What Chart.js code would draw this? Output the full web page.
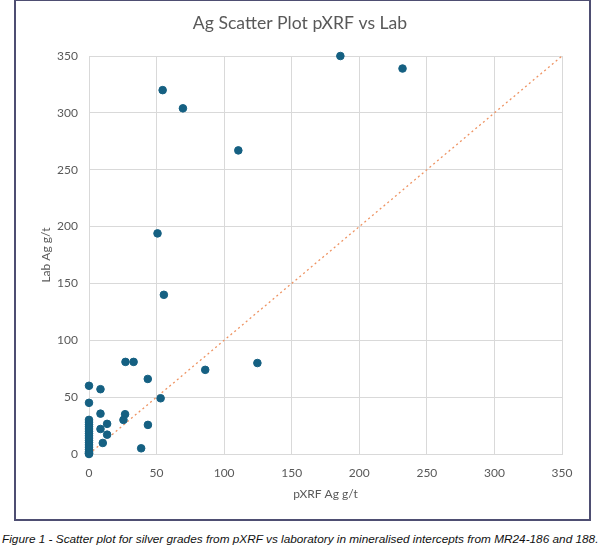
<!DOCTYPE html>
<html>
<head>
<meta charset="utf-8">
<script src="https://cdn.jsdelivr.net/npm/chart.js@4.4.1/dist/chart.umd.min.js"></script>
<style>
  html, body { margin: 0; padding: 0; background: #fff; }
  body { width: 608px; height: 552px; position: relative; overflow: hidden; }
  #wrap { position: absolute; left: 0; top: 0; width: 608px; height: 520px; }
  #frame {
    position: absolute; left: 14px; top: -1px; width: 577px; height: 522px;
    box-sizing: border-box; border: 2px solid #4e4e72; pointer-events: none;
  }
  #caption {
    position: absolute; left: 2px; top: 532px; width: 606px;
    font: italic 11.8px "Liberation Sans", Arial, sans-serif; color: #111;
    white-space: nowrap;
  }
</style>
</head>
<body>
<div id="wrap"><canvas id="agChart" width="608" height="520"></canvas></div>
<div id="frame"></div>
<div id="caption">Figure 1 - Scatter plot for silver grades from pXRF vs laboratory in mineralised intercepts from MR24-186 and 188.</div>
<script>
// pXRF vs Lab silver (g/t)
const pxrf = [186, 232, 54.5, 69.5, 110.5, 50.7, 55.4, 124.6, 86, 43.5, 53, 27, 33,
              8.5, 8.5, 26.7, 25.5, 13.4, 8.5, 13.4, 10.2, 43.6, 38.6,
              0, 0, 0, 0, 0, 0, 0, 0, 0, 0, 0, 0, 0, 0, 0, 0, 0, 0, 0, 0];
const lab = [350, 339, 320, 304, 267, 194, 140, 80, 74, 66, 49, 81, 81,
             57, 35.5, 35, 30, 26.5, 22, 17, 9.7, 25.6, 5,
             60, 45, 30, 28, 26, 24, 22, 20, 18, 16, 14, 12, 10, 8, 6, 4, 2, 1, 0.5, 0];
const oneToOne = [0, 350];
const axisMin = 0, axisMax = 350, axisStep = 50;

const points = pxrf.map((v, i) => ({ x: v, y: lab[i] }));
const linePts = oneToOne.map(v => ({ x: v, y: v }));

const grey = '#595959';
const fontFam = 'Lato, "Open Sans", sans-serif';

const ctx = document.getElementById('agChart').getContext('2d');
new Chart(ctx, {
    type: 'scatter',
    data: {
        datasets: [{
            label: 'Ag',
            data: points,
            backgroundColor: '#156082',
            borderColor: '#156082',
            pointRadius: 3.8,
            borderWidth: 1,
            clip: false,
            order: 1
        }, {
            type: 'line',
            label: '1:1',
            data: linePts,
            borderColor: '#ee9362',
            borderWidth: 1.3,
            borderDash: [2, 3],
            pointRadius: 0,
            fill: false,
            order: 2
        }]
    },
    options: {
        responsive: false,
        animation: false,
        layout: { padding: { left: 38, right: 46, top: 0, bottom: 0 } },
        plugins: {
            legend: { display: false },
            tooltip: { enabled: false },
            title: {
                display: true,
                text: 'Ag Scatter Plot pXRF vs Lab',
                color: grey,
                font: { family: fontFam, size: 17.6, weight: 'normal' },
                padding: { top: 12.5, bottom: 22.4 }
            }
        },
        scales: {
            x: {
                type: 'linear',
                min: axisMin, max: axisMax,
                ticks: { stepSize: axisStep, color: grey, padding: 12, font: { family: fontFam, size: 12 } },
                grid: { color: '#d9d9d9', lineWidth: 1, drawTicks: false },
                border: { color: '#d9d9d9' },
                title: {
                    display: true, text: 'pXRF Ag g/t', color: grey,
                    font: { family: fontFam, size: 12 },
                    padding: { top: 0, bottom: 18.8 }
                },
                afterFit: s => { s.height = 66; }
            },
            y: {
                type: 'linear',
                min: axisMin, max: axisMax,
                ticks: { stepSize: axisStep, color: grey, padding: 11, font: { family: fontFam, size: 12 } },
                grid: { color: '#d9d9d9', lineWidth: 1, drawTicks: false },
                border: { color: '#d9d9d9' },
                title: {
                    display: true, text: 'Lab Ag g/t', color: grey,
                    font: { family: fontFam, size: 12 },
                    padding: { top: 0.8, bottom: 0 }
                },
                afterFit: s => { s.width = 51; }
            }
        }
    }
});
</script>
</body>
</html>
